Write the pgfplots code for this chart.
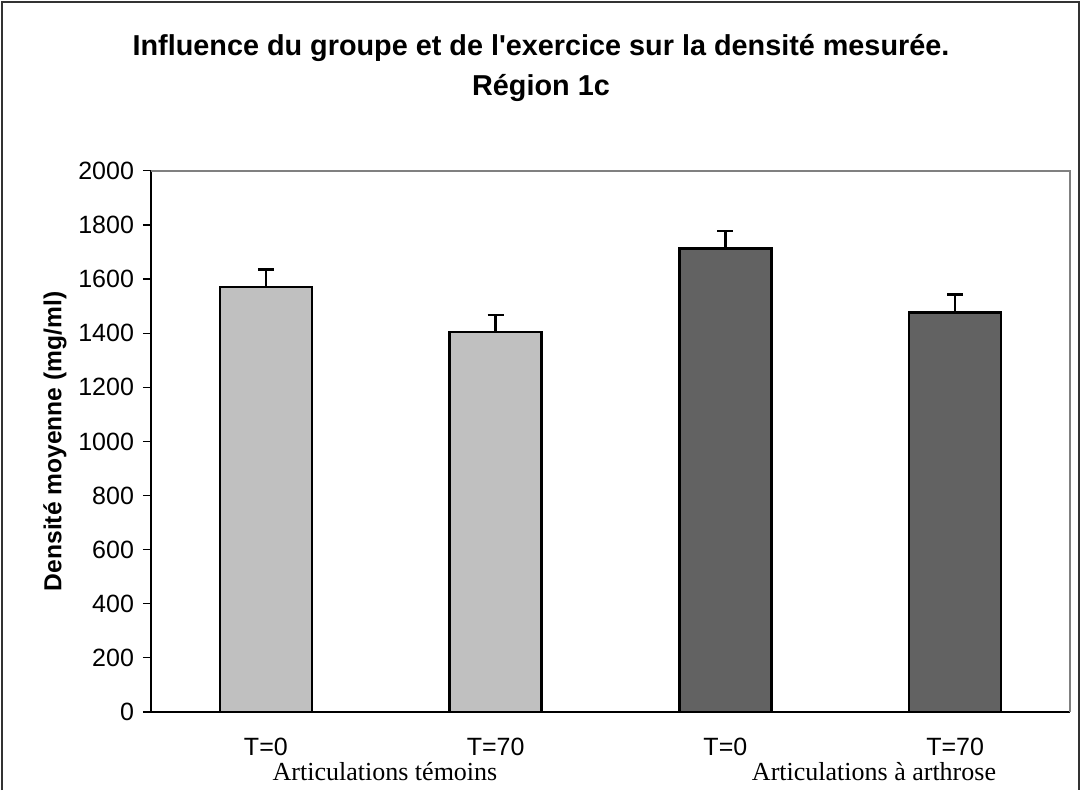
\documentclass[border=0pt]{standalone}
\usepackage{fontspec}
\setmainfont{Liberation Serif}
\setsansfont{Liberation Sans}
\usepackage{pgfplots}
\pgfplotsset{compat=1.18}
\definecolor{lightbar}{RGB}{192,192,192}
\definecolor{darkbar}{RGB}{98,98,98}
\begin{document}
\begin{tikzpicture}[x=0.5pt,y=-0.5pt]
\path (0,0) rectangle (1082,785);
\draw[line width=0.8pt,black!80] (2,790) -- (2,2) -- (1079,2) -- (1079,790);
\node[font=\sffamily\bfseries\fontsize{14.4}{16}\selectfont] at (541,48) {Influence du groupe et de l\textquotesingle exercice sur la densité mesurée.};
\node[font=\sffamily\bfseries\fontsize{14.4}{16}\selectfont] at (541,88) {Région 1c};
\begin{axis}[
  at={(75.5pt,-356pt)}, anchor=south west,
  scale only axis, width=459.5pt, height=270.6pt,
  xmin=-0.5, xmax=3.5, ymin=0, ymax=2000,
  ytick={0,200,...,2000},
  xtick={0,1,2,3},
  xticklabels={T=0,T=70,T=0,T=70},
  x tick label style={font=\sffamily\fontsize{12.5}{14}\selectfont, yshift=-5.5pt},
  y tick label style={font=\sffamily\fontsize{12.5}{14}\selectfont, xshift=-1pt},
  /pgf/number format/assume math mode=true,
  /pgf/number format/1000 sep={},
  major x tick style={draw=none},
  extra x ticks={-0.5,0.5,1.5,2.5,3.5},
  extra x tick labels={},
  extra x tick style={tick style={black, line width=0.6pt}, major tick length=4pt},
  tick align=outside,
  major tick length=4pt,
  ytick style={black, line width=0.6pt},
  axis x line*=bottom, axis y line*=left,
  axis line style={black, line width=0.8pt, -},
  ylabel={Densité moyenne (mg/ml)},
  ylabel style={font=\sffamily\bfseries\fontsize{12.3}{14}\selectfont, yshift=-1pt},
  clip=false,
]
\draw[gray, line width=0.8pt] (rel axis cs:0,1) -- (rel axis cs:1,1) -- (rel axis cs:1,0);
\addplot[ybar, bar width=46pt, fill=lightbar, draw=black, line width=1.2pt,
  error bars/.cd, y dir=plus, y explicit, error mark options={rotate=90, mark size=4pt, line width=1.2pt}, error bar style={line width=1.2pt}]
  coordinates {(0,1570) +- (0,65) (1,1405) +- (0,63)};
\addplot[ybar, bar width=46pt, fill=darkbar, draw=black, line width=1.2pt,
  error bars/.cd, y dir=plus, y explicit, error mark options={rotate=90, mark size=4pt, line width=1.2pt}, error bar style={line width=1.2pt}]
  coordinates {(2,1713) +- (0,65) (3,1477) +- (0,66)};
\end{axis}
\node[font=\fontsize{13}{15}\selectfont, inner ysep=1pt] at (385,772) {Articulations témoins};
\node[font=\fontsize{13}{15}\selectfont, inner ysep=1pt] at (874,772) {Articulations à arthrose};
\end{tikzpicture}
\end{document}
